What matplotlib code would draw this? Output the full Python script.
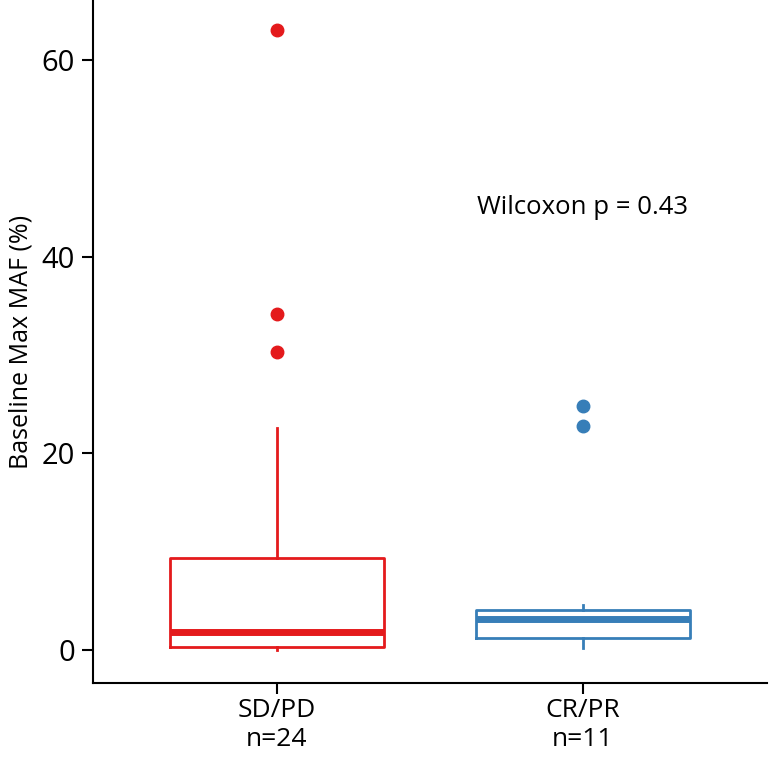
import matplotlib.pyplot as plt

plt.rcParams['font.family'] = ['Open Sans', 'DejaVu Sans']

groups = ['SD/PD\nn=24', 'CR/PR\nn=11']
colors = ['#E41A1C', '#377EB8']

# box stats (whisker low, q1, median, q3, whisker high)
whislo = [0.0, 0.17]
q1 = [0.34, 1.19]
med = [1.8, 3.12]
q3 = [9.4, 4.07]
whishi = [22.6, 4.6]
outliers = [[63.0, 34.2, 30.3], [24.8, 22.8]]

stats = []
for i in range(2):
    stats.append(dict(whislo=whislo[i], q1=q1[i], med=med[i], q3=q3[i],
                      whishi=whishi[i], fliers=outliers[i]))

fig = plt.figure(figsize=(7.69, 7.61), dpi=100)
ax = fig.add_axes([0.121, 0.1025, 0.876, 0.8975])

for i, s in enumerate(stats):
    c = colors[i]
    ax.bxp([s], positions=[i + 1], widths=0.7, showcaps=False,
           boxprops=dict(color=c, linewidth=2),
           whiskerprops=dict(color=c, linewidth=2),
           medianprops=dict(color=c, linewidth=5, solid_capstyle='butt'),
           flierprops=dict(marker='o', markerfacecolor=c, markeredgecolor=c,
                           markersize=9))

ax.text(2, 45, 'Wilcoxon p = 0.43', ha='center', va='center', fontsize=18.5)

ax.set_xlim(0.4, 2.6)
ax.set_ylim(-3.36, 66.1)
ax.set_xticks([1, 2])
ax.set_xticklabels(groups, fontsize=19, linespacing=1.2)
ax.set_yticks([0, 20, 40, 60])
ax.tick_params(axis='y', labelsize=21, length=8, width=1.5, pad=5)
ax.tick_params(axis='x', length=8, width=1.5, pad=3)
ax.set_ylabel('Baseline Max MAF (%)', fontsize=18, labelpad=6)
ax.spines['top'].set_visible(False)
ax.spines['right'].set_visible(False)
ax.spines['left'].set_linewidth(1.5)
ax.spines['bottom'].set_linewidth(1.5)

fig.savefig('out.png', dpi=100)
